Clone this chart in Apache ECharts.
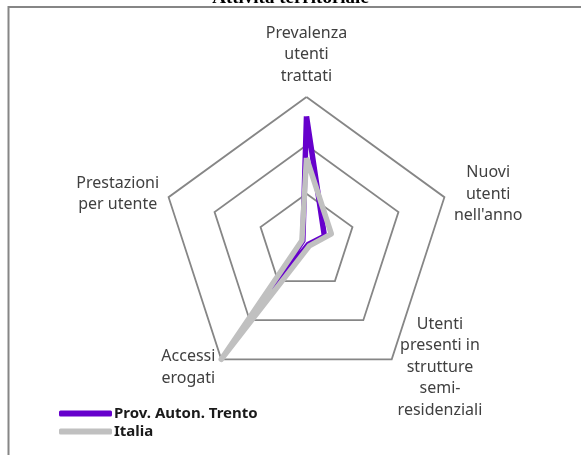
<!DOCTYPE html>
<html>
<head>
<meta charset="utf-8">
<script src="https://cdn.jsdelivr.net/npm/echarts@6/dist/echarts.min.js"></script>
<style>
html,body{margin:0;padding:0;background:#fff;}
#chart{width:581px;height:455px;}
</style>
</head>
<body>
<div id="chart"></div>
<script>
// Categories in the reference's clockwise order, starting at the top
var categories = [
  'Prevalenza\nutenti\ntrattati',
  "Nuovi\nutenti\nnell'anno",
  'Utenti\npresenti in\nstrutture\nsemi-\nresidenziali',
  'Accessi\nerogati',
  'Prestazioni\nper utente'
];
var seriesNames = ['Prov. Auton. Trento', 'Italia'];
var trento = [2.6, 0.39, 0.06, 1.5, 0.08];
var italia = [1.74, 0.54, 0.1, 3.0, 0.1];
var axisMax = 3;
var titleText = 'Attività territoriale';

// ECharts lays radar indicators out counter-clockwise; reorder to keep the clockwise layout
var order = [0, 4, 3, 2, 1];
function reorder(arr) { return order.map(function (i) { return arr[i]; }); }

var chart = echarts.init(document.getElementById('chart'), null, {renderer: 'canvas'});
var option = {
  animation: false,
  backgroundColor: '#ffffff',
  title: {
    text: titleText,
    left: 'center',
    top: -16,
    textStyle: {fontFamily: 'Liberation Serif', fontWeight: 'bold', fontSize: 19, color: '#000'}
  },
  graphic: [{
    type: 'rect',
    shape: {x: 8.5, y: 7, width: 620, height: 500},
    style: {fill: 'none', stroke: '#868686', lineWidth: 2},
    silent: true
  }],
  legend: {
    orient: 'vertical',
    left: 54,
    top: 401,
    itemWidth: 53,
    itemHeight: 6,
    itemGap: 3,
    icon: 'roundRect',
    data: seriesNames,
    textStyle: {fontFamily: 'Noto Sans', fontWeight: 'bold', fontSize: 15, color: '#1a1a1a', padding: [0, 0, 0, -3]}
  },
  radar: {
    center: [306.5, 242],
    radius: 145,
    startAngle: 90,
    splitNumber: 3,
    shape: 'polygon',
    nameGap: 10,
    indicator: reorder(categories).map(function (c) { return {name: c, max: axisMax, min: 0}; }),
    axisName: {
      color: '#404040',
      fontFamily: 'Noto Sans',
      fontSize: 16,
      formatter: function (name) {
        return name.split('\n').map(function (l) { return '{c|' + l + '}'; }).join('\n');
      },
      rich: {
        c: {align: 'center', fontFamily: 'Noto Sans', fontSize: 16, lineHeight: 21.5, color: '#404040'}
      }
    },
    axisLine: {show: false},
    axisTick: {show: false},
    axisLabel: {show: false},
    splitArea: {show: false},
    splitLine: {lineStyle: {color: '#868686', width: 1.8}}
  },
  series: [{
    type: 'radar',
    symbol: 'none',
    data: [
      {name: seriesNames[0], value: reorder(trento),
       lineStyle: {color: '#6600CC', width: 5.5, join: 'round'},
       itemStyle: {color: '#6600CC'}},
      {name: seriesNames[1], value: reorder(italia),
       lineStyle: {color: '#C0C0C0', width: 5.5, join: 'round'},
       itemStyle: {color: '#C0C0C0'}}
    ]
  }]
};
chart.setOption(option);
</script>
</body>
</html>
